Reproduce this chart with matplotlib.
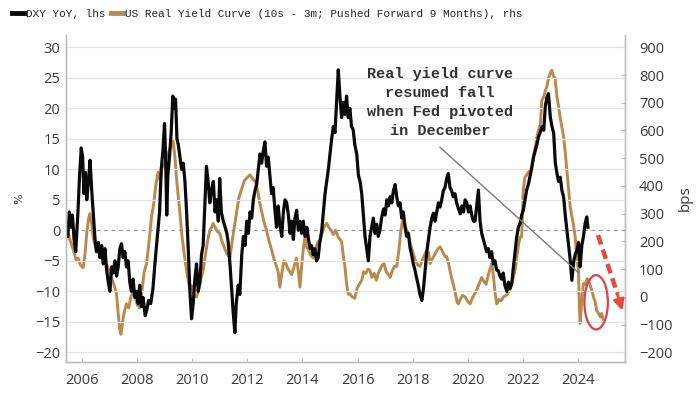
import numpy as np
import matplotlib
matplotlib.use("Agg")
import matplotlib.pyplot as plt
from matplotlib.patches import Ellipse
from matplotlib.lines import Line2D

# DXY YoY (%), left axis
dxy_t = [2005.49, 2005.55, 2005.60, 2005.66, 2005.72, 2005.78, 2005.86, 2005.92, 2005.98, 2006.03,
         2006.08, 2006.13, 2006.18, 2006.24, 2006.30, 2006.36, 2006.42, 2006.48, 2006.53, 2006.60,
         2006.66, 2006.72, 2006.78, 2006.84, 2006.90, 2006.96, 2007.02, 2007.08, 2007.14, 2007.20,
         2007.26, 2007.32, 2007.38, 2007.44, 2007.50, 2007.56, 2007.62, 2007.68, 2007.74, 2007.80,
         2007.86, 2007.92, 2007.98, 2008.04, 2008.10, 2008.16, 2008.22, 2008.30, 2008.36, 2008.42,
         2008.50, 2008.58, 2008.66, 2008.74, 2008.82, 2008.88, 2008.94, 2009.00, 2009.04, 2009.08,
         2009.12, 2009.18, 2009.24, 2009.30, 2009.35, 2009.40, 2009.45, 2009.50, 2009.56, 2009.62,
         2009.68, 2009.74, 2009.80, 2009.86, 2009.92, 2009.98, 2010.04, 2010.10, 2010.16, 2010.22,
         2010.28, 2010.34, 2010.40, 2010.46, 2010.52, 2010.58, 2010.64, 2010.70, 2010.77, 2010.83,
         2010.89, 2010.95, 2011.00, 2011.06, 2011.13, 2011.20, 2011.26, 2011.31, 2011.38, 2011.44,
         2011.49, 2011.55, 2011.60, 2011.67, 2011.73, 2011.80, 2011.86, 2011.92, 2011.98, 2012.04,
         2012.10, 2012.16, 2012.22, 2012.28, 2012.34, 2012.40, 2012.46, 2012.52, 2012.58, 2012.64,
         2012.70, 2012.76, 2012.82, 2012.88, 2012.94, 2013.00, 2013.06, 2013.12, 2013.18, 2013.25,
         2013.31, 2013.37, 2013.43, 2013.49, 2013.55, 2013.61, 2013.67, 2013.73, 2013.79, 2013.85,
         2013.91, 2013.97, 2014.03, 2014.10, 2014.16, 2014.22, 2014.28, 2014.33, 2014.39, 2014.45,
         2014.51, 2014.57, 2014.63, 2014.70, 2014.76, 2014.82, 2014.88, 2014.94, 2015.00, 2015.06,
         2015.12, 2015.18, 2015.24, 2015.30, 2015.36, 2015.42, 2015.48, 2015.54, 2015.60, 2015.66,
         2015.72, 2015.78, 2015.84, 2015.90, 2015.97, 2016.03, 2016.09, 2016.15, 2016.21, 2016.27,
         2016.33, 2016.39, 2016.45, 2016.51, 2016.57, 2016.63, 2016.69, 2016.75, 2016.81, 2016.87,
         2016.94, 2017.00, 2017.06, 2017.12, 2017.18, 2017.24, 2017.30, 2017.36, 2017.42, 2017.48,
         2017.54, 2017.60, 2017.66, 2017.72, 2017.78, 2017.84, 2017.90, 2017.96, 2018.02, 2018.08,
         2018.14, 2018.20, 2018.26, 2018.33, 2018.39, 2018.45, 2018.51, 2018.57, 2018.63, 2018.69,
         2018.75, 2018.81, 2018.87, 2018.93, 2018.99, 2019.05, 2019.11, 2019.17, 2019.23, 2019.29,
         2019.35, 2019.41, 2019.47, 2019.53, 2019.59, 2019.66, 2019.72, 2019.78, 2019.84, 2019.90,
         2019.96, 2020.02, 2020.08, 2020.14, 2020.20, 2020.26, 2020.32, 2020.38, 2020.44, 2020.50,
         2020.56, 2020.62, 2020.68, 2020.74, 2020.80, 2020.86, 2020.92, 2020.98, 2021.04, 2021.10,
         2021.16, 2021.22, 2021.28, 2021.34, 2021.41, 2021.47, 2021.53, 2021.59, 2021.65, 2021.71,
         2021.77, 2021.83, 2021.89, 2021.95, 2022.01, 2022.07, 2022.13, 2022.20, 2022.26, 2022.32,
         2022.38, 2022.44, 2022.50, 2022.56, 2022.62, 2022.69, 2022.75, 2022.81, 2022.87, 2022.92,
         2022.99, 2023.05, 2023.11, 2023.17, 2023.23, 2023.29, 2023.35, 2023.41, 2023.47, 2023.53,
         2023.59, 2023.65, 2023.71, 2023.77, 2023.84, 2023.90, 2023.95, 2024.01, 2024.07, 2024.13,
         2024.19, 2024.25, 2024.31, 2024.35]
dxy_v = [-1.0, 3.0, 0.5, 2.5, -1.5, -3.5, 3.0, 9.0, 13.5, 12.0,
         6.0, 9.5, 5.0, 8.0, 11.5, 6.5, 2.5, -1.5, -3.5, -2.0,
         -4.5, -2.5, -5.5, -3.0, -6.5, -8.5, -10.0, -6.0, -7.0, -5.0,
         -7.5, -6.0, -3.0, -2.2, -4.5, -3.5, -6.0, -5.0, -8.5, -10.0,
         -8.0, -11.0, -10.0, -12.0, -9.0, -12.5, -11.0, -14.0, -13.0, -11.5,
         -12.0, -9.5, -5.0, -1.0, 3.0, 10.0, 13.0, 17.5, 12.0, 2.5,
         9.0, 12.0, 16.0, 22.0, 20.0, 21.5, 15.0, 14.0, 12.0, 10.0,
         11.0, 8.0, 3.0, -3.0, -10.0, -14.5, -12.0, -8.0, -5.5, -10.0,
         -8.5, -4.0, -2.5, 4.0, 10.5, 8.0, 4.5, 6.5, 8.0, 3.0,
         5.0, 1.5, 8.5, 3.0, 1.5, 0.5, -0.5, -2.0, -6.0, -10.0,
         -13.5, -16.8, -12.0, -9.0, -10.5, -4.0, -1.0, -2.5, 1.5, -0.5,
         3.0, 2.0, 5.0, 6.5, 7.5, 10.0, 12.5, 11.0, 13.0, 14.5,
         10.5, 12.0, 9.0, 6.0, 7.0, 3.5, 0.5, 4.0, 1.0, -1.0,
         3.0, 5.0, 4.5, 2.5, -0.5, 1.5, -1.5, 2.0, 3.3, 0.0,
         1.5, -0.5, 1.5, -1.0, 0.5, -1.5, -3.0, -2.5, -4.0, -3.0,
         -5.0, -4.5, -2.0, 0.0, 3.0, 6.0, 8.0, 10.0, 12.5, 15.0,
         17.0, 16.0, 21.0, 26.3, 22.0, 18.5, 21.0, 19.0, 22.0, 18.5,
         20.0, 17.0, 16.5, 14.0, 12.5, 9.0, 8.0, 6.0, 2.5, -1.0,
         -3.0, -5.0, -1.0, 0.5, 2.0, -0.5, 1.0, -1.0, 0.0, 2.0,
         3.5, 2.5, 5.0, 4.0, 5.5, 4.5, 6.5, 7.5, 5.5, 4.0,
         4.5, 2.0, 3.0, 0.5, -1.0, -0.5, -2.8, -4.0, -5.5, -6.5,
         -7.8, -9.0, -10.5, -11.5, -9.5, -6.5, -3.5, -1.5, 0.5, 2.0,
         2.8, 1.5, 3.0, 4.5, 3.8, 5.0, 6.5, 7.0, 8.5, 9.3,
         7.0, 6.5, 5.5, 6.0, 4.5, 3.5, 2.7, 4.0, 3.0, 5.0,
         4.5, 3.0, 4.0, 2.5, 1.5, 1.5, 4.0, 6.6, 1.5, -0.5,
         -1.5, -2.5, -3.5, -3.0, -4.5, -3.5, -5.5, -5.0, -6.5, -6.6,
         -7.5, -8.0, -7.0, -9.0, -10.0, -8.5, -9.5, -8.7, -6.0, -3.5,
         -1.1, 0.5, 1.1, 2.5, 3.3, 5.0, 6.6, 7.7, 9.0, 10.4,
         12.0, 13.0, 14.0, 15.3, 16.0, 17.0, 16.4, 20.5, 21.8, 22.4,
         18.5, 17.0, 15.9, 11.0, 9.3, 8.0, 8.7, 6.5, 5.5, 2.5,
         0.0, -2.5, -4.9, -8.2, -5.0, -3.8, -3.3, -2.0, -6.0, -2.5,
         -1.0, 1.1, 2.2, 0.5]

# US real yield curve 10s-3m, pushed forward 9 months (bps), right axis
ryc_t = [2005.49, 2005.55, 2005.63, 2005.72, 2005.80, 2005.87, 2005.95, 2006.05, 2006.12, 2006.18,
         2006.24, 2006.29, 2006.35, 2006.42, 2006.50, 2006.58, 2006.66, 2006.77, 2006.85, 2006.93,
         2007.02, 2007.10, 2007.18, 2007.26, 2007.32, 2007.38, 2007.42, 2007.48, 2007.55, 2007.62,
         2007.70, 2007.78, 2007.86, 2007.94, 2008.02, 2008.10, 2008.18, 2008.26, 2008.35, 2008.44,
         2008.53, 2008.60, 2008.68, 2008.77, 2008.85, 2008.93, 2009.00, 2009.07, 2009.14, 2009.22,
         2009.31, 2009.38, 2009.44, 2009.50, 2009.56, 2009.62, 2009.68, 2009.76, 2009.84, 2009.92,
         2009.98, 2010.05, 2010.16, 2010.25, 2010.33, 2010.40, 2010.48, 2010.56, 2010.64, 2010.70,
         2010.76, 2010.84, 2010.92, 2011.00, 2011.08, 2011.16, 2011.24, 2011.30, 2011.37, 2011.45,
         2011.55, 2011.62, 2011.70, 2011.80, 2011.90, 2012.00, 2012.10, 2012.20, 2012.30, 2012.38,
         2012.46, 2012.54, 2012.62, 2012.70, 2012.78, 2012.88, 2012.96, 2013.06, 2013.12, 2013.18,
         2013.26, 2013.33, 2013.40, 2013.48, 2013.55, 2013.61, 2013.70, 2013.78, 2013.85, 2013.91,
         2013.98, 2014.04, 2014.09, 2014.15, 2014.22, 2014.30, 2014.39, 2014.46, 2014.55, 2014.64,
         2014.72, 2014.80, 2014.88, 2014.96, 2015.04, 2015.12, 2015.20, 2015.30, 2015.42, 2015.48,
         2015.54, 2015.60, 2015.66, 2015.72, 2015.80, 2015.90, 2015.98, 2016.06, 2016.15, 2016.22,
         2016.30, 2016.38, 2016.45, 2016.52, 2016.60, 2016.68, 2016.75, 2016.82, 2016.90, 2016.96,
         2017.04, 2017.12, 2017.18, 2017.26, 2017.34, 2017.42, 2017.50, 2017.56, 2017.62, 2017.66,
         2017.72, 2017.78, 2017.84, 2017.92, 2018.02, 2018.10, 2018.18, 2018.26, 2018.34, 2018.42,
         2018.50, 2018.57, 2018.63, 2018.70, 2018.78, 2018.86, 2018.93, 2018.99, 2019.05, 2019.12,
         2019.18, 2019.23, 2019.30, 2019.38, 2019.47, 2019.55, 2019.61, 2019.65, 2019.72, 2019.80,
         2019.90, 2019.98, 2020.08, 2020.16, 2020.24, 2020.32, 2020.40, 2020.50, 2020.58, 2020.66,
         2020.74, 2020.80, 2020.87, 2020.93, 2020.99, 2021.05, 2021.12, 2021.20, 2021.29, 2021.38,
         2021.46, 2021.53, 2021.60, 2021.67, 2021.72, 2021.78, 2021.84, 2021.89, 2021.95, 2022.01,
         2022.07, 2022.14, 2022.20, 2022.26, 2022.32, 2022.38, 2022.44, 2022.50, 2022.56, 2022.63,
         2022.68, 2022.75, 2022.81, 2022.86, 2022.93, 2022.98, 2023.04, 2023.10, 2023.16, 2023.23,
         2023.29, 2023.34, 2023.41, 2023.47, 2023.53, 2023.59, 2023.65, 2023.71, 2023.77, 2023.83,
         2023.89, 2023.95, 2024.01, 2024.04, 2024.07, 2024.11, 2024.15, 2024.19, 2024.26, 2024.32,
         2024.37, 2024.44, 2024.50, 2024.55, 2024.62, 2024.67, 2024.74, 2024.80, 2024.85, 2024.90]
ryc_v = [240, 210, 190, 160, 130, 140, 115, 105, 160, 230,
         280, 300, 270, 210, 180, 160, 170, 130, 120, 110,
         90, 60, 40, 10, -60, -120, -135, -90, -50, -25,
         -40, 0, 20, -5, -30, -40, 20, 90, 120, 200,
         290, 330, 400, 450, 420, 480, 470, 505, 520, 540,
         565, 500, 420, 360, 300, 230, 180, 120, 70, 25,
         40, 10, 0, 30, 70, 95, 150, 200, 240, 250,
         265, 250, 235, 230, 200, 180, 160, 150, 140, 200,
         265, 310, 360, 390, 420, 430, 440, 425, 415, 380,
         335, 300, 265, 240, 205, 170, 140, 110, 90, 35,
         90, 130, 120, 100, 90, 80, 110, 140, 95, 35,
         120, 180, 215, 180, 170, 150, 140, 170, 195, 205,
         230, 255, 265, 250, 240, 225, 240, 215, 200, 150,
         110, 50, 10, 10, 0, -5, 30, 45, 60, 90,
         85, 100, 95, 70, 85, 60, 85, 100, 115, 120,
         90, 80, 70, 95, 110, 110, 170, 230, 270, 275,
         260, 240, 230, 190, 155, 130, 115, 110, 130, 150,
         165, 160, 120, 135, 150, 165, 175, 180, 170, 155,
         145, 145, 120, 80, 45, 10, -20, -25, -10, 5,
         0, -15, -25, -5, 10, 25, 45, 70, 55, 45,
         80, 100, 120, 70, 10, -25, -10, -15, 0, 5,
         15, 25, 50, 80, 100, 150, 190, 215, 216, 390,
         432, 440, 450, 455, 470, 510, 540, 577, 600, 625,
         709, 720, 745, 757, 790, 805, 817, 795, 790, 720,
         685, 650, 610, 577, 520, 456, 390, 324, 290, 260,
         216, 140, 96, -30, -96, -40, 10, 48, 45, 65,
         60, 40, 20, 0, -20, -50, -60, -73, -60, -80]

year_ticks = list(range(2006, 2025, 2))
left_ticks = list(range(-20, 31, 5))
right_ticks = list(range(-200, 901, 100))


def pct_to_bps(v):
    # right axis is tied to the left one: 0% sits at 240 bps, 1% = 22 bps
    return 240 + 22 * np.asarray(v)


BLACK = "#0a0a0a"
GOLD = "#b98a4f"
GREY = "#bdbdbd"
TXT = "#3a3a3a"

fig = plt.figure(figsize=(7, 3.94), dpi=100)
ax = fig.add_axes([0.094, 0.081, 0.799, 0.830])
ax2 = ax.twinx()
ax.set_zorder(ax2.get_zorder() + 1)
ax.patch.set_visible(False)

ylo, yhi = -21.6, 32.0
ax.set_xlim(2005.42, 2025.70)
ax.set_ylim(ylo, yhi)
ax2.set_ylim(pct_to_bps(ylo), pct_to_bps(yhi))

for v in left_ticks:
    if v == 0:
        ax.axhline(v, color="#9a9a9a", lw=0.9, ls=(0, (3, 3)), zorder=0)
    else:
        ax.axhline(v, color="#e3e3e3", lw=0.9, zorder=0)

ax2.plot(ryc_t, ryc_v, color=GOLD, lw=2.1, solid_joinstyle="round")
ax.plot(dxy_t, dxy_v, color=BLACK, lw=2.3, solid_joinstyle="round")

ax.set_xticks(year_ticks)
ax.set_xticklabels([str(y) for y in year_ticks])
ax.set_yticks(left_ticks)
ax2.set_yticks(right_ticks)

for lab in ax.get_xticklabels() + ax.get_yticklabels() + ax2.get_yticklabels():
    lab.set_fontfamily("Open Sans")
    lab.set_fontsize(10.5)
    lab.set_color(TXT)

ax.tick_params(axis="y", length=0, pad=4)
ax.tick_params(axis="x", direction="in", length=3, color=GREY, pad=8)
ax2.tick_params(axis="y", direction="in", length=3, color=GREY, pad=10)

for a in (ax, ax2):
    a.spines["top"].set_visible(False)
    for s in ("left", "bottom", "right"):
        a.spines[s].set_color(GREY)
        a.spines[s].set_linewidth(1.0)

ax.set_ylabel("%", fontsize=8, color=TXT, labelpad=8)
ax2.set_ylabel("bps", rotation=90, fontsize=11, color=TXT, family="Open Sans", labelpad=4)

# annotation
ax.text(2018.99, 20.9, "Real yield curve\nresumed fall\nwhen Fed pivoted\nin December",
        ha="center", va="center", multialignment="center", family="Liberation Mono",
        fontweight="bold", fontsize=11, color="#333333", linespacing=1.45)
ax.plot([2018.99, 2024.0], [13.6, -6.9], color="#7a7a7a", lw=1.0)

# red circle and arrow
ax.add_patch(Ellipse((2024.65, -11.8), 0.85, 8.9, fill=False, ec="#d8434c", lw=1.6, zorder=5))
ax.plot([2024.72, 2025.42], [-0.8, -10.4], color="#e8473b", lw=3.2, ls=(0, (2.2, 1.2)),
        clip_on=False, zorder=6)
ax.annotate("", xy=(2025.63, -13.6), xytext=(2025.38, -9.9),
            arrowprops=dict(arrowstyle="-|>", color="#e8473b", lw=2, mutation_scale=16),
            annotation_clip=False, zorder=6)

# legend
handles = [Line2D([], [], color=BLACK, lw=3.5),
           Line2D([], [], color=GOLD, lw=3.5)]
labels = ["DXY YoY, lhs", "US Real Yield Curve (10s - 3m; Pushed Forward 9 Months), rhs"]
fig.legend(handles, labels, loc="upper left", bbox_to_anchor=(0.008, 0.995), ncol=2,
           frameon=False, prop=dict(family="Liberation Mono", size=7.9),
           handlelength=1.1, handletextpad=0.15, columnspacing=0.5, borderaxespad=0.2,
           labelcolor="#222222")

fig.savefig("out.png", dpi=100, facecolor="white")
